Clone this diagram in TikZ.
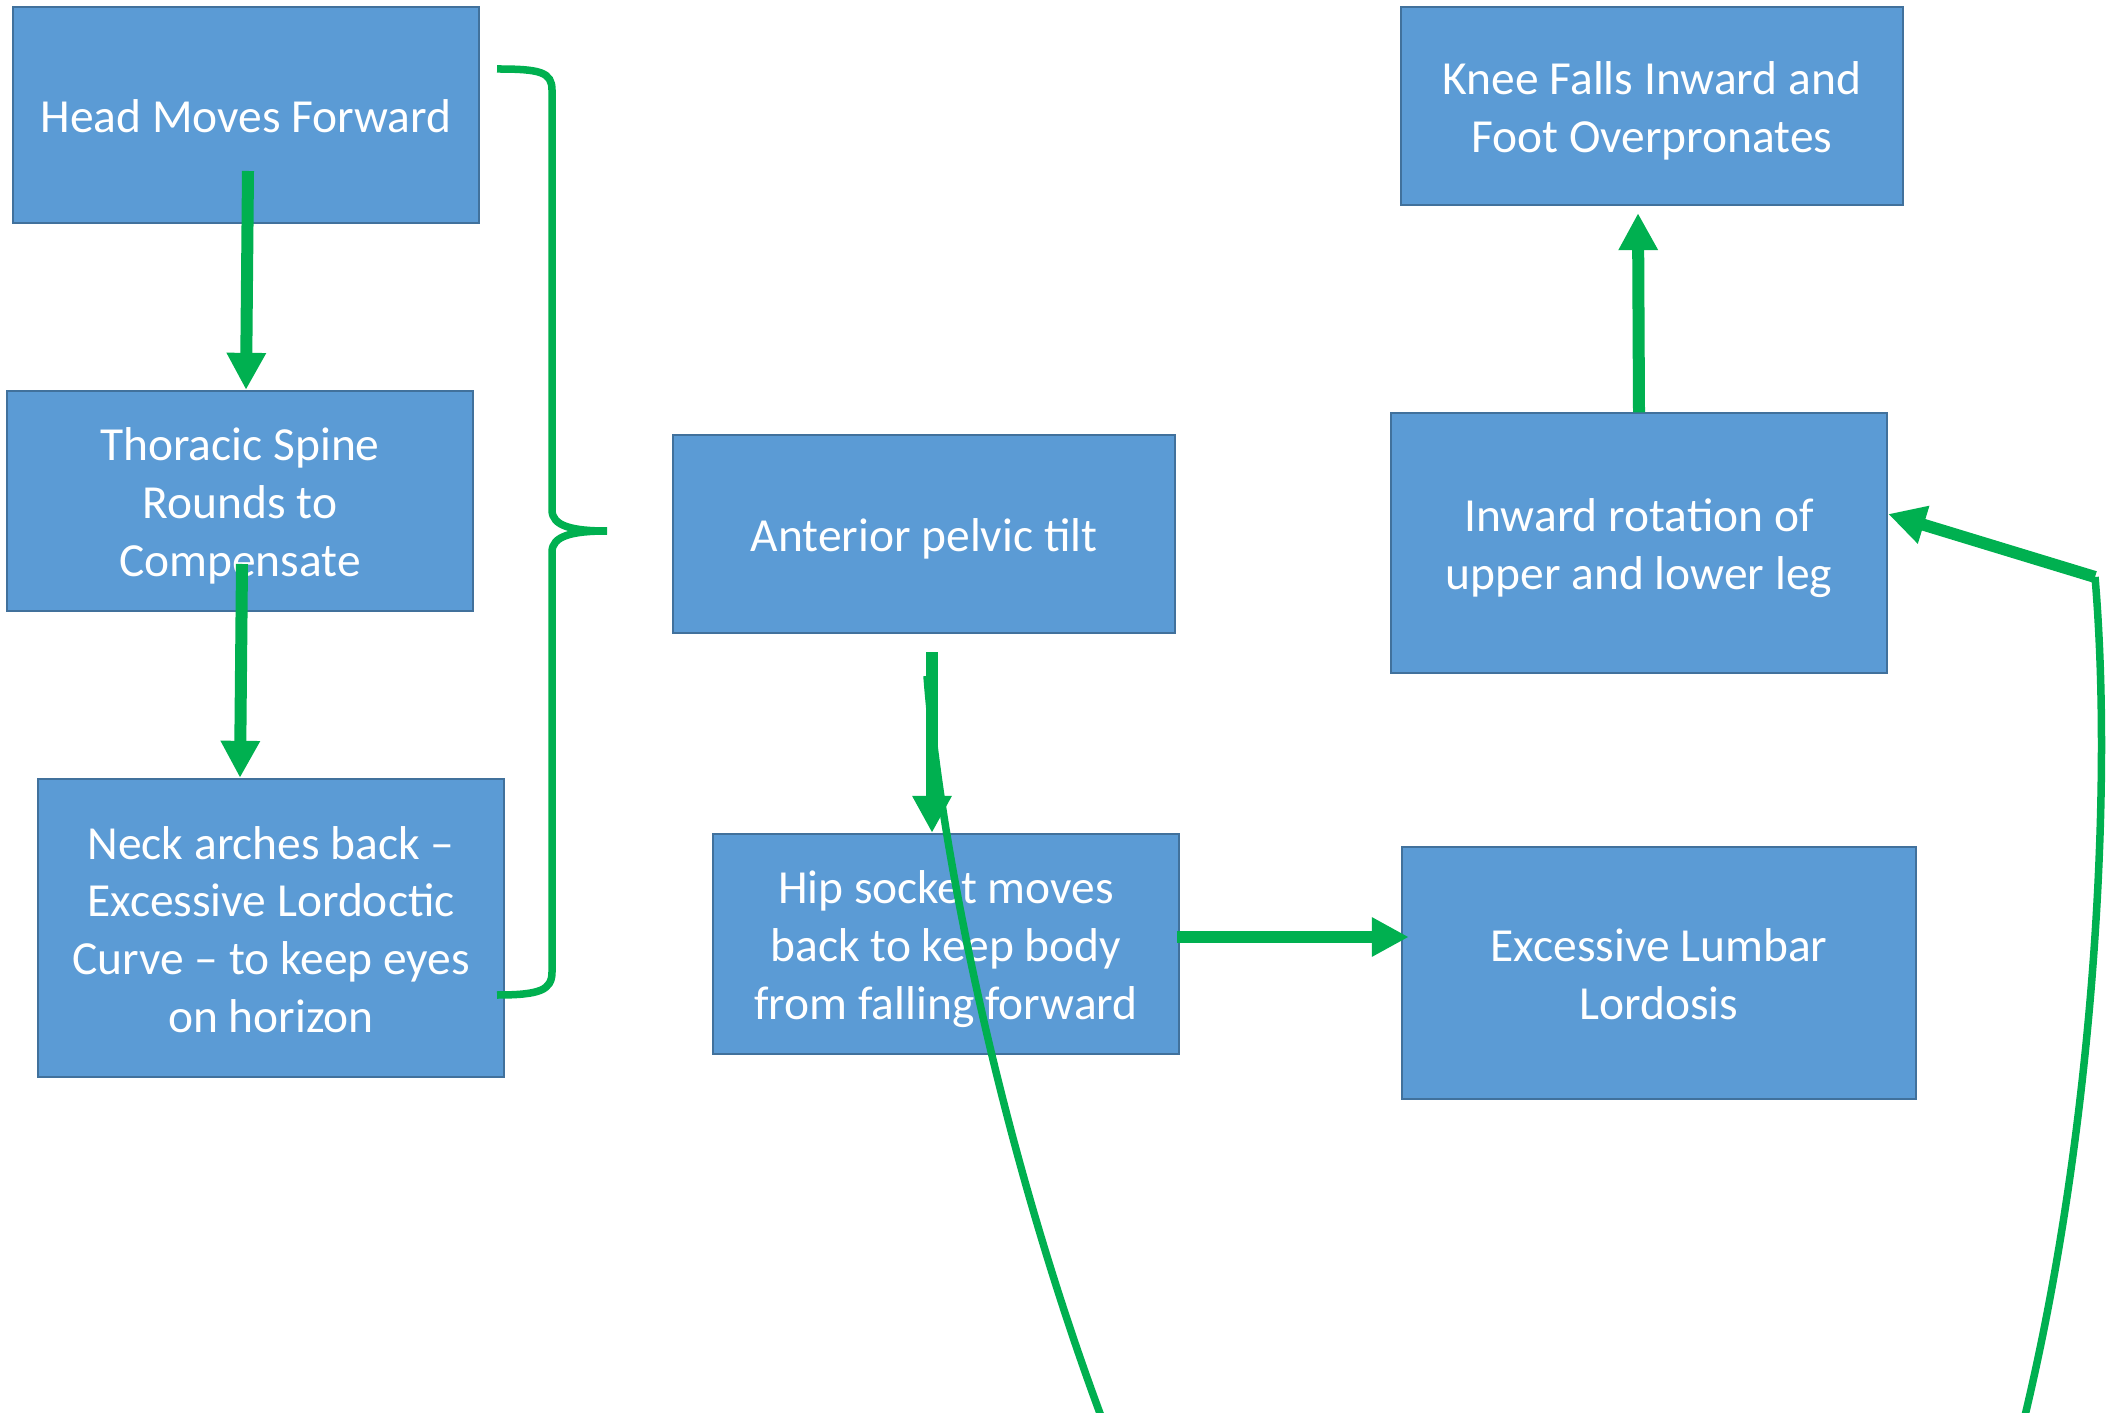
\documentclass[tikz,border=0pt]{standalone}
\usepackage{fontspec}
\setmainfont{Carlito}
\usetikzlibrary{arrows.meta,calc}
\definecolor{boxblue}{HTML}{5B9BD5}
\definecolor{boxline}{HTML}{41719C}
\definecolor{arrgreen}{HTML}{00B050}
\begin{document}
\begin{tikzpicture}[x=0.01cm, y=-0.01cm, font=\fontsize{13.5}{16.4}\selectfont,
  box/.style={draw=boxline, line width=0.6pt, fill=boxblue, text=white, align=center, inner sep=0pt,
    execute at begin node={\rule{0pt}{\dimexpr13.2pt+16.4pt*(#1-1)\relax}},
    execute at end node={\rule[-3.2pt]{0pt}{3.2pt}}},
  box/.default=1,
  arr/.style={-{Triangle[length=0.37cm, width=0.37cm]}, line width=0.12cm, arrgreen},
  thinline/.style={line width=0.075cm, arrgreen}]
\clip (0,0) rectangle (2106,1413);
% left column
\node[box, minimum width=4.66cm, minimum height=2.16cm] (head) at (246,115) {Head Moves Forward};
\node[box=3, minimum width=4.66cm, minimum height=2.20cm] (thor) at (240,501) {Thoracic Spine\\Rounds to\\Compensate};
\node[box=4, minimum width=4.66cm, minimum height=2.98cm] (neck) at (271,928) {Neck arches back –\\Excessive Lordoctic\\Curve – to keep eyes\\on horizon};
% middle column
\node[box, minimum width=5.02cm, minimum height=1.98cm] (ant) at (924,534) {Anterior pelvic tilt};
\node[box=3, minimum width=4.66cm, minimum height=2.20cm] (hip) at (946,944) {Hip socket moves\\back to keep body\\from falling forward};
% right column
\node[box=2, minimum width=5.01cm, minimum height=1.98cm] (knee) at (1652,106) {Knee Falls Inward and\\Foot Overpronates};
\node[box=2, minimum width=4.96cm, minimum height=2.59cm] (inw) at (1639,543) {Inward rotation of\\upper and lower leg};
\node[box=2, minimum width=5.14cm, minimum height=2.52cm] (lum) at (1659,973) {Excessive Lumbar\\Lordosis};
% arrows
\draw[arr] ($(head.center)+(2,56)$) -- (head.center |- thor.north);
\draw[arr] ($(thor.center)+(2,63)$) -- (thor.center |- neck.north);
\coordinate (tiltfoot) at ($(ant.south)+(8,18)$);
\draw[arr] (tiltfoot) -- (tiltfoot |- hip.north);
\draw[arr] ($(hip.east)+(-3,-7)$) -- ($(lum.west |- hip.east)+(8,-7)$);
\draw[arr] (inw.north) -- ($(inw.north |- knee.south)+(-1,7)$);
\coordinate (kink) at (2095,577);
\draw[arr] (kink) -- ($(inw.east)+(0,-29)$);
% thin curves
\coordinate (footR) at (2019,1440);
\draw[thinline] (footR) .. controls (2092,1150) and (2114,800) .. (kink);
\coordinate (footM) at (1110,1440);
\coordinate (curvetop) at (927,676);
\draw[thinline] (footM) .. controls (1003,1160) and (940,850) .. (curvetop);
% brace
\draw[thinline] (497,69) .. controls (540,69) and (552,72) .. (552,90) -- (552,510)
  .. controls (552,526) and (572,531) .. (607,531)
  .. controls (572,531) and (552,536) .. (552,552) -- (552,972)
  .. controls (552,990) and (540,995) .. (497,995);
\end{tikzpicture}
\end{document}
